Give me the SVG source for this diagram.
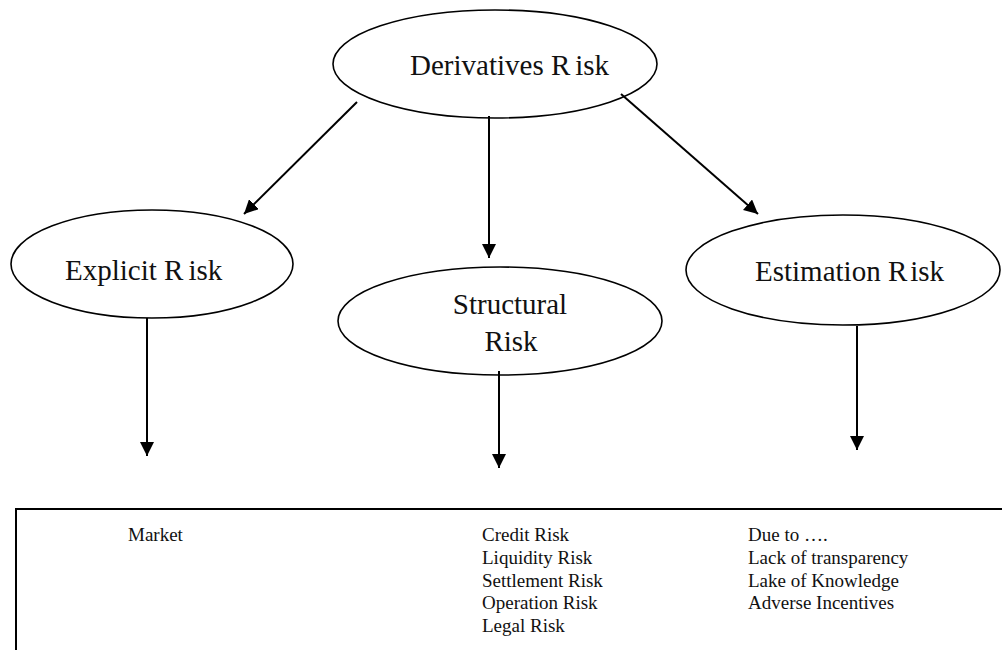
<svg xmlns="http://www.w3.org/2000/svg" width="1002" height="650" viewBox="0 0 1002 650">
<style>
.node ellipse{fill:#fff;stroke:#000;stroke-width:1.6}
.t{font-family:"Liberation Serif","Times New Roman",serif;fill:#111}
.big{font-size:29px}
.small{font-size:19px}
.conn line{stroke:#000;stroke-width:2}
</style>
<defs>
<marker id="ah" markerUnits="userSpaceOnUse" markerWidth="16" markerHeight="14" refX="14" refY="7" orient="auto">
<path d="M0,0 L14,7 L0,14 Z" fill="#000"/>
</marker>
</defs>
<rect width="1002" height="650" fill="#fff"/>
<g id="derivatives-risk" class="node">
<ellipse cx="495" cy="64" rx="162" ry="54"/>
<text class="t big" x="410" y="75" font-size="30">Derivatives R<tspan dx="5">isk</tspan></text>
</g>
<g id="explicit-risk" class="node">
<ellipse cx="152" cy="264" rx="141" ry="54"/>
<text class="t big" x="65" y="280">Explicit R<tspan dx="5">isk</tspan></text>
</g>
<g id="structural-risk" class="node">
<ellipse cx="500" cy="321" rx="162" ry="54"/>
<text class="t big" x="510" y="314" text-anchor="middle">Structural</text>
<text class="t big" x="511" y="351" text-anchor="middle">Risk</text>
</g>
<g id="estimation-risk" class="node">
<ellipse cx="843" cy="270" rx="157" ry="55"/>
<text class="t big" x="755" y="281">Estimation R<tspan dx="3">isk</tspan></text>
</g>
<g id="connectors" class="conn">
<line x1="357" y1="102" x2="244" y2="214" marker-end="url(#ah)"/>
<line x1="489" y1="116" x2="489" y2="258" marker-end="url(#ah)"/>
<line x1="621" y1="94" x2="758" y2="214" marker-end="url(#ah)"/>
<line x1="147" y1="318" x2="147" y2="456" marker-end="url(#ah)"/>
<line x1="499" y1="371" x2="499" y2="468" marker-end="url(#ah)"/>
<line x1="857" y1="326" x2="857" y2="450" marker-end="url(#ah)"/>
</g>
<g id="risk-box">
<path d="M16,650 V509 H1002" fill="none" stroke="#000" stroke-width="2"/>
<text class="t small" x="128" y="541">Market</text>
<text class="t small" x="482" y="541">Credit Risk</text>
<text class="t small" x="482" y="564">Liquidity Risk</text>
<text class="t small" x="482" y="587">Settlement Risk</text>
<text class="t small" x="482" y="609">Operation Risk</text>
<text class="t small" x="482" y="632">Legal Risk</text>
<text class="t small" x="748" y="541">Due to ….</text>
<text class="t small" x="748" y="564">Lack of transparency</text>
<text class="t small" x="748" y="587">Lake of Knowledge</text>
<text class="t small" x="748" y="609">Adverse Incentives</text>
</g>
</svg>
